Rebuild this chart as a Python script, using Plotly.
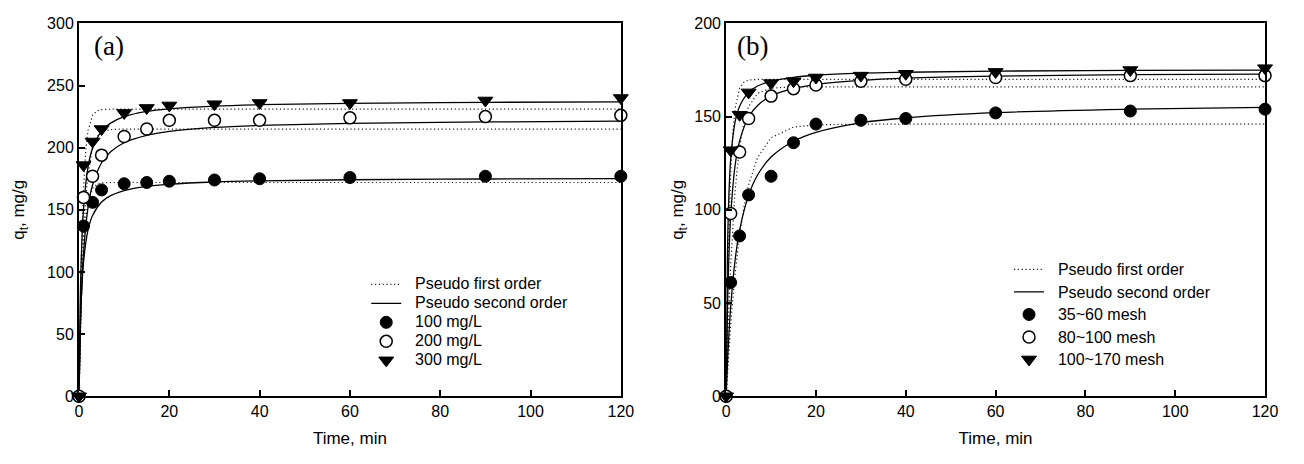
import plotly.graph_objects as go

# ---------------- data ----------------
t_obs = [0, 1, 3, 5, 10, 15, 20, 30, 40, 60, 90, 120]

# panel (a): initial concentration
a_100 = [0, 137, 156, 166, 171, 172, 173, 174, 175, 176, 177, 177]
a_200 = [0, 160, 177, 194, 209, 215, 222, 222, 222, 224, 225, 226]
a_300 = [0, 186, 205, 215, 228, 232, 234, 235, 236, 236, 238, 240]

# panel (b): particle size
b_35_60 = [0, 61, 86, 108, 118, 136, 146, 148, 149, 152, 153, 154]
b_80_100 = [0, 98, 131, 149, 161, 165, 167, 169, 170, 171, 172, 172]
b_100_170 = [0, 132, 151, 163, 168, 169, 171, 172, 173, 174, 175, 176]

# model curves
t_pfo = [0, 0.25, 0.5, 1, 1.5, 2, 3, 4, 5, 7, 10, 15, 20, 30, 120]
a_pfo_100 = [0, 44.6, 77.6, 120, 143.6, 156.4, 167.3, 170.6, 171.6, 172, 172, 172, 172, 172, 172]
a_pfo_200 = [0, 43, 78, 127.5, 159, 179.5, 200.6, 209, 212.6, 214.6, 215, 215, 215, 215, 215]
a_pfo_300 = [0, 64, 110, 168, 198, 214, 226, 229.7, 230.7, 231, 231, 231, 231, 231, 231]
b_pfo_35 = [0, 10.6, 20.3, 37.8, 52.9, 65.9, 86.6, 102.0, 113.4, 128.1, 138.7, 144.4, 145.6, 146, 146]
b_pfo_80 = [0, 21.3, 39.9, 70.2, 93.3, 110.7, 134.1, 147.6, 155.4, 162.5, 165.3, 166, 166, 166, 166]
b_pfo_100 = [0, 44.0, 76.7, 118.8, 141.9, 154.6, 165.4, 168.6, 169.6, 170, 170, 170, 170, 170, 170]

t_pso = [0, 0.25, 0.5, 1, 2, 3, 5, 7, 10, 15, 20, 30, 40, 60, 90, 120]
a_pso_100 = [0, 49.9, 77.8, 107.9, 133.8, 145.4, 156.3, 161.4, 165.5, 168.9, 170.6, 172.4, 173.3, 174.2, 174.8, 175.1]
a_pso_200 = [0, 47.1, 77.7, 115.3, 152.0, 170.0, 187.9, 196.8, 204.0, 209.9, 213.1, 216.3, 217.9, 219.6, 220.7, 221.3]
a_pso_300 = [0, 71.9, 110.4, 150.8, 184.6, 199.5, 213.3, 219.8, 225.0, 229.2, 231.3, 233.5, 234.6, 235.7, 236.5, 236.9]
b_pso_35 = [0, 15.4, 28.0, 47.6, 73.2, 89.1, 107.9, 118.7, 128.3, 136.8, 141.6, 146.7, 149.3, 152.1, 154.0, 155.0]
b_pso_80 = [0, 41.1, 66.4, 96.2, 123.9, 137.0, 149.8, 156.0, 161.0, 165.1, 167.2, 169.4, 170.6, 171.7, 172.5, 172.8]
b_pso_100 = [0, 69.3, 99.3, 126.9, 147.3, 155.6, 163.0, 166.4, 169.0, 171.1, 172.2, 173.3, 173.8, 174.4, 174.8, 174.9]

x_ticks = [0, 20, 40, 60, 80, 100, 120]
ya_ticks = [0, 50, 100, 150, 200, 250, 300]
yb_ticks = [0, 50, 100, 150, 200]

labels_a = ["100 mg/L", "200 mg/L", "300 mg/L"]
labels_b = ["35~60 mesh", "80~100 mesh", "100~170 mesh"]

# ---------------- styling ----------------
FONT = "Liberation Sans, Arial, sans-serif"
SP = "\u00a0\u00a0"


def lname(s):
    return '<span style="font-size:16px">' + SP + s + '</span>'


dot_style = dict(color="#222222", width=1.2, dash="1.2px,2.6px")
solid_style = dict(color="black", width=1.3)
symbols = [
    dict(symbol="circle", color="black", size=12, line=dict(color="black", width=1)),
    dict(symbol="circle", color="white", size=12, line=dict(color="black", width=1.5)),
    dict(symbol="triangle-down", color="black", size=13, line=dict(color="black", width=1)),
]

fig = go.Figure()


def add_panel(xa, ya, legend, pfo, pso, obs, labels):
    for i, y in enumerate(pfo):
        fig.add_trace(go.Scatter(
            x=t_pfo, y=y, mode="lines", line=dot_style, xaxis=xa, yaxis=ya,
            name=lname("Pseudo first order"), legend=legend,
            legendgroup=legend + "pfo", showlegend=(i == 0), hoverinfo="skip"))
    for i, y in enumerate(pso):
        fig.add_trace(go.Scatter(
            x=t_pso, y=y, mode="lines", line=solid_style, line_shape="spline",
            xaxis=xa, yaxis=ya,
            name=lname("Pseudo second order"), legend=legend,
            legendgroup=legend + "pso", showlegend=(i == 0), hoverinfo="skip"))
    for i, y in enumerate(obs):
        fig.add_trace(go.Scatter(
            x=t_obs, y=y, mode="markers", marker=symbols[i], xaxis=xa, yaxis=ya,
            name=lname(labels[i]), legend=legend, cliponaxis=False))


add_panel("x", "y", "legend", [a_pfo_100, a_pfo_200, a_pfo_300],
          [a_pso_100, a_pso_200, a_pso_300], [a_100, a_200, a_300], labels_a)
add_panel("x2", "y2", "legend2", [b_pfo_35, b_pfo_80, b_pfo_100],
          [b_pso_35, b_pso_80, b_pso_100], [b_35_60, b_80_100, b_100_170], labels_b)

W, H = 1304, 464
ydom = [1 - 403 / H, 1 - 16 / H]

axis_common = dict(
    showline=True, linecolor="black", linewidth=2, mirror=True,
    ticks="inside", ticklen=6, tickwidth=1.5, tickcolor="black",
    showgrid=False, zeroline=False,
    tickfont=dict(family=FONT, size=16, color="black"),
)

fig.update_layout(
    width=W, height=H,
    margin=dict(l=0, r=0, t=0, b=0),
    paper_bgcolor="white", plot_bgcolor="white",
    font=dict(family=FONT, size=16, color="black"),
    xaxis=dict(domain=[76 / W, 625 / W], range=[0, 120], tickvals=x_ticks,
               title=dict(text="Time, min", font=dict(size=17), standoff=13),
               anchor="y", **axis_common),
    yaxis=dict(domain=ydom, range=[0, 300], tickvals=ya_ticks,
               title=dict(text="q<sub>t</sub>, mg/g", font=dict(size=17), standoff=18),
               anchor="x", **axis_common),
    xaxis2=dict(domain=[731.7 / W, 1277.7 / W], range=[0, 120], tickvals=x_ticks,
                title=dict(text="Time, min", font=dict(size=17), standoff=13),
                anchor="y2", **axis_common),
    yaxis2=dict(domain=ydom, range=[0, 200], tickvals=yb_ticks,
                title=dict(text="q<sub>t</sub>, mg/g", font=dict(size=17), standoff=6),
                anchor="x2", **axis_common),
    legend=dict(x=367 / W, y=1 - 271.8 / H, xanchor="left", yanchor="top",
                bgcolor="rgba(0,0,0,0)", borderwidth=0,
                font=dict(family=FONT, size=12, color="black"), traceorder="normal"),
    legend2=dict(x=1018.3 / W, y=1 - 254.5 / H, xanchor="left", yanchor="top",
                 bgcolor="rgba(0,0,0,0)", borderwidth=0,
                 font=dict(family=FONT, size=15, color="black"), traceorder="normal"),
    showlegend=True,
    annotations=[
        dict(text="(a)", x=89 / W, y=1 - 39 / H, xref="paper", yref="paper",
             xanchor="left", yanchor="middle", showarrow=False,
             font=dict(family="Liberation Serif, Times New Roman, serif", size=27, color="black")),
        dict(text="(b)", x=741 / W, y=1 - 39 / H, xref="paper", yref="paper",
             xanchor="left", yanchor="middle", showarrow=False,
             font=dict(family="Liberation Serif, Times New Roman, serif", size=27, color="black")),
    ],
)

fig.write_html("out.html")
